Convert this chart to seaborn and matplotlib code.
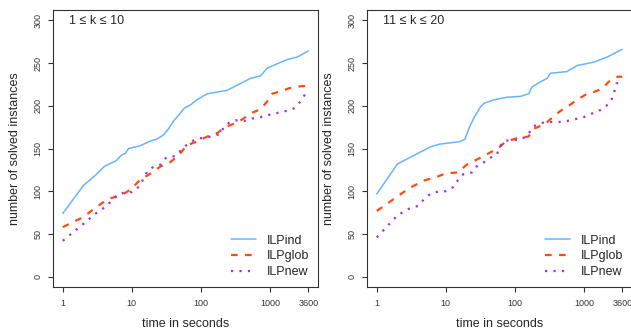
import numpy as np
import pandas as pd
import matplotlib
matplotlib.use("Agg")
import matplotlib.pyplot as plt
import seaborn as sns

# ---------------- data ----------------
panel_titles = ["1 \u2264 k \u2264 10", "11 \u2264 k \u2264 20"]
solvers = ["ILPind", "ILPglob", "ILPnew"]

# left panel: 1 <= k <= 10
L_ind_t = [1, 2, 3, 4, 6, 7, 8, 9, 13, 19, 23, 29, 34, 41, 48, 57, 71, 88, 124, 172,
           240, 336, 420, 525, 733, 916, 1276, 1780, 2490, 3600]
L_ind_v = [74, 107, 119, 129, 136, 142, 144, 150, 153, 159, 161, 166, 173, 183, 189, 197,
           201, 207, 214, 216, 218, 224, 228, 232, 235, 244, 249, 254, 257, 264]
L_glob_t = [1, 2, 3, 4, 5, 7, 10, 13, 19, 26, 36, 48, 63, 88, 124, 172, 228, 300, 398,
            525, 733, 916, 1080, 1430, 2000, 2950, 3600]
L_glob_v = [58, 70, 81, 88, 92, 95, 103, 113, 121, 129, 134, 142, 154, 158, 164, 168,
            175, 179, 184, 191, 196, 205, 214, 217, 221, 223, 223]
L_new_t = [1, 2, 3, 4, 5, 6, 8, 10, 13, 15, 17, 21, 26, 32, 42, 52, 60, 80, 99, 124,
           193, 215, 255, 318, 420, 550, 694, 895, 1150, 1430, 1780, 2240, 2650, 3290, 3600]
L_new_v = [42, 62, 74, 81, 88, 95, 99, 99, 106, 116, 124, 129, 131, 140, 141, 148, 153,
           160, 162, 163, 167, 175, 180, 183, 182, 185, 186, 189, 190, 193, 194, 197, 203,
           214, 215]

# right panel: 11 <= k <= 20
R_ind_t = [1, 2, 6, 8, 10, 16, 19, 22, 26, 32, 36, 50, 78, 121, 159, 178, 235, 294, 328,
           572, 795, 1397, 2180, 3600]
R_ind_v = [97, 132, 152, 155, 156, 158, 161, 175, 187, 199, 203, 207, 210, 211, 214, 222,
           228, 232, 238, 240, 247, 251, 257, 266]
R_glob_t = [1, 2, 3, 5, 7, 10, 15, 20, 28, 41, 59, 73, 108, 158, 188, 277, 348, 458, 605,
            795, 1115, 1397, 1840, 2290, 3100, 3600]
R_glob_v = [77, 94, 104, 113, 116, 121, 122, 131, 137, 144, 151, 158, 162, 164, 173, 179,
            186, 194, 200, 207, 214, 216, 220, 228, 234, 234]
R_new_t = [1, 2, 3, 4, 5, 6, 8, 10, 13, 15, 18, 24, 28, 36, 44, 55, 60, 71, 97, 121, 143,
           172, 188, 241, 321, 435, 560, 716, 944, 1180, 1473, 1740, 2055, 2430, 2720,
           2960, 3600]
R_new_v = [46, 72, 80, 83, 92, 97, 100, 100, 105, 113, 120, 122, 129, 134, 139, 143, 152,
           159, 160, 160, 164, 171, 176, 180, 181, 181, 182, 184, 186, 189, 193, 195, 199,
           204, 214, 226, 228]

x_ticks = [1, 10, 100, 1000, 3600]
x_ticklabels = ["1", "10", "100", "1000", "3600"]
y_ticks = [0, 50, 100, 150, 200, 250, 300]

# ---------------- build long table ----------------
rows = []
series = {
    0: {"ILPind": (L_ind_t, L_ind_v), "ILPglob": (L_glob_t, L_glob_v), "ILPnew": (L_new_t, L_new_v)},
    1: {"ILPind": (R_ind_t, R_ind_v), "ILPglob": (R_glob_t, R_glob_v), "ILPnew": (R_new_t, R_new_v)},
}
for p, d in series.items():
    for s in solvers:
        t, v = d[s]
        for ti, vi in zip(t, v):
            rows.append({"panel": p, "solver": s, "time": ti, "solved": vi})
df = pd.DataFrame(rows)

# ---------------- style ----------------
sns.set_style("ticks")
plt.rcParams["font.family"] = ["Liberation Sans", "DejaVu Sans"]
plt.rcParams["axes.edgecolor"] = "#333333"
plt.rcParams["axes.linewidth"] = 0.8

palette = {"ILPind": "#66B5FF", "ILPglob": "#FF4A10", "ILPnew": "#A030F5"}
dashes = {"ILPind": "", "ILPglob": (3.0, 3.3), "ILPnew": (1.0, 2.8)}
widths = {"ILPind": 1.1, "ILPglob": 1.6, "ILPnew": 1.6}

fig = plt.figure(figsize=(6.31, 3.30), dpi=100)
W, H = 631.0, 330.0
axes = [fig.add_axes([53 / W, 43 / H, 265 / W, 277 / H]),
        fig.add_axes([367 / W, 43 / H, 265 / W, 277 / H])]

xmin, xmax = 10 ** (-0.142), 10 ** 3.698
for p, ax in enumerate(axes):
    sub = df[df["panel"] == p]
    sns.lineplot(data=sub, x="time", y="solved", hue="solver", style="solver",
                 hue_order=solvers, style_order=solvers, palette=palette,
                 dashes=dashes, estimator=None, sort=False, ax=ax, legend=False)
    for line, s in zip(ax.lines, solvers):
        line.set_linewidth(widths[s])
        line.set_dash_capstyle("butt")
    ax.set_xscale("log")
    ax.set_xlim(xmin, xmax)
    ax.set_ylim(-12, 312)
    ax.set_xticks(x_ticks)
    ax.set_xticklabels(x_ticklabels)
    ax.xaxis.set_minor_locator(matplotlib.ticker.NullLocator())
    ax.set_yticks(y_ticks)
    ax.set_yticklabels([str(y) for y in y_ticks], rotation=90, va="center")
    ax.tick_params(axis="both", labelsize=6.5, length=3.5, width=0.8,
                   colors="#333333", labelcolor="#333333", direction="out")
    ax.tick_params(axis="y", pad=4)
    ax.tick_params(axis="x", pad=5)
    for sp in ax.spines.values():
        sp.set_visible(True)
        sp.set_color("#333333")
    ax.set_xlabel("time in seconds", fontsize=9, labelpad=7)
    ax.set_ylabel("number of solved instances", fontsize=9, labelpad=9)
    ax.text(0.06, 0.962, panel_titles[p], transform=ax.transAxes, fontsize=9,
            ha="left", va="center", family=["Liberation Sans", "DejaVu Sans"])
    ax.legend(handles=ax.lines[:3], labels=solvers, loc="lower right",
              bbox_to_anchor=(1.0, 0.0), frameon=False, fontsize=9,
              handlelength=2.0, handletextpad=0.9, labelspacing=0.3,
              borderpad=0.4, borderaxespad=0.3)

fig.savefig("out.png", dpi=100)
